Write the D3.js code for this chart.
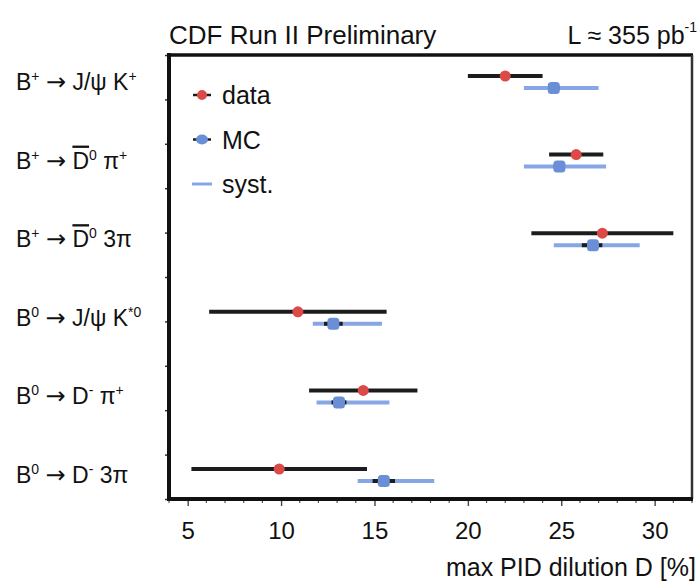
<!DOCTYPE html>
<html>
<head>
<meta charset="utf-8">
<script src="https://cdn.jsdelivr.net/npm/d3@7"></script>
<style>
  html, body { margin: 0; padding: 0; background: #fff; }
  svg { display: block; font-family: "Liberation Sans", Arial, Helvetica, sans-serif; }
</style>
</head>
<body>
<svg id="chart" width="698" height="584"></svg>
<script>
// Decay channels, top to bottom
const channels = ["Bp_JpsiK", "Bp_D0pi", "Bp_D03pi", "B0_JpsiKst", "B0_Dpi", "B0_D3pi"];

// Data: central value and symmetric error
const dataValue = [22.0, 25.8, 27.2, 10.9, 14.4, 9.9];
const dataError = [2.0, 1.45, 3.8, 4.75, 2.9, 4.7];

// Monte Carlo: central value, statistical range, systematic range
const mcValue  = [24.6, 24.9, 26.7, 12.8, 13.1, 15.5];
const mcStatLo = [24.3, 24.6, 26.1, 12.3, 12.7, 14.9];
const mcStatHi = [24.9, 25.2, 27.2, 13.3, 13.5, 16.1];
const mcSystLo = [23.0, 23.0, 24.6, 11.7, 11.9, 14.1];
const mcSystHi = [27.0, 27.4, 29.2, 15.4, 15.8, 18.2];

const xMajorTicks = [5, 10, 15, 20, 25, 30];

const RED = "#dc4a48", BLUE = "#6b8fd6", BLUE_LINE = "#86a6e6", DARK = "#1c1c1c";

const svg = d3.select("#chart");
const frame = { left: 169, right: 692, top: 55, bottom: 499 };

const x = d3.scaleLinear().domain([4, 32]).range([frame.left, frame.right]);
const yRow = d3.scalePoint().domain(channels).range([76, 469]);
const yTick = d3.scaleLinear().domain([0, 10]).range([frame.bottom, frame.top]);
const mcOffset = 12;

// Header texts
svg.append("text").attr("x", 169).attr("y", 44)
  .attr("font-size", 26).attr("fill", "#111")
  .text("CDF Run II Preliminary");
const lum = svg.append("text").attr("x", 697).attr("y", 44)
  .attr("text-anchor", "end").attr("font-size", 25).attr("fill", "#111");
lum.append("tspan").text("L \u2248 355 pb");
lum.append("tspan").attr("font-size", 14).attr("dy", -12).text("-1");

// Axis ticks (outside the frame)
const xMinor = d3.range(4, 33, 1);
const gx = svg.append("g").attr("transform", `translate(0,${frame.bottom})`);
gx.selectAll("line.minor").data(xMinor.filter(v => v % 5 !== 0)).join("line")
  .attr("x1", d => x(d)).attr("x2", d => x(d)).attr("y1", 0).attr("y2", 4)
  .attr("stroke", "#555").attr("stroke-width", 1.2);
gx.call(d3.axisBottom(x).tickValues(xMajorTicks).tickSize(7).tickPadding(16).tickFormat(d3.format("d")))
  .call(g => g.select(".domain").remove())
  .call(g => g.selectAll(".tick line").attr("stroke", "#444").attr("stroke-width", 1.4))
  .call(g => g.selectAll(".tick text").attr("font-size", 24).attr("fill", "#111")
    .attr("font-family", "'Liberation Sans', Arial, sans-serif"));

svg.append("g").attr("transform", `translate(${frame.left},0)`)
  .call(d3.axisLeft(yTick).ticks(10).tickSize(4).tickFormat(""))
  .call(g => g.select(".domain").remove())
  .call(g => g.selectAll(".tick line").attr("stroke", "#333").attr("stroke-width", 1.5));

// Frame
const fr = svg.append("g").attr("stroke", "#111").attr("fill", "none");
fr.append("line").attr("x1", frame.left).attr("x2", frame.right + 1).attr("y1", frame.top).attr("y2", frame.top).attr("stroke-width", 3.5);
fr.append("line").attr("x1", frame.right).attr("x2", frame.right).attr("y1", frame.top).attr("y2", frame.bottom).attr("stroke-width", 2.5).attr("stroke", "#333");
fr.append("line").attr("x1", frame.left - 2).attr("x2", frame.right + 1).attr("y1", frame.bottom).attr("y2", frame.bottom).attr("stroke-width", 4);
fr.append("line").attr("x1", frame.left).attr("x2", frame.left).attr("y1", frame.top - 2).attr("y2", frame.bottom + 2).attr("stroke-width", 4);

// Axis title
svg.append("text").attr("x", 696).attr("y", 576).attr("text-anchor", "end")
  .attr("font-size", 25).attr("fill", "#111").text("max PID dilution D [%]");

// Channel labels with superscripts, overbars and a long arrow
const labelParts = [
  [["B"], ["+", "sup"], [" "], ["\u2192", "arrow"], [" J/\u03c8 K"], ["+", "sup"]],
  [["B"], ["+", "sup"], [" "], ["\u2192", "arrow"], [" "], ["D", "bar"], ["0", "sup"], [" \u03c0"], ["+", "sup"]],
  [["B"], ["+", "sup"], [" "], ["\u2192", "arrow"], [" "], ["D", "bar"], ["0", "sup"], [" 3\u03c0"]],
  [["B"], ["0", "sup"], [" "], ["\u2192", "arrow"], [" J/\u03c8 K"], ["*0", "sup"]],
  [["B"], ["0", "sup"], [" "], ["\u2192", "arrow"], [" D"], ["-", "sup"], [" \u03c0"], ["+", "sup"]],
  [["B"], ["0", "sup"], [" "], ["\u2192", "arrow"], [" D"], ["-", "sup"], [" 3\u03c0"]]
];
channels.forEach((c, i) => {
  const t = svg.append("text").attr("x", 16).attr("y", yRow(c) + 6 + 8)
    .attr("font-size", 23).attr("fill", "#111");
  labelParts[i].forEach(([s, kind]) => {
    const sp = t.append("tspan").text(s);
    if (kind === "sup") sp.attr("font-size", 14).attr("baseline-shift", "65%");
    if (kind === "bar") sp.attr("text-decoration", "overline");
    if (kind === "arrow") sp.attr("font-family", "'DejaVu Sans', sans-serif").attr("font-size", 24);
  });
});

// Marks
const plot = svg.append("g");
channels.forEach((c, i) => {
  const yd = yRow(c), ym = yRow(c) + mcOffset;
  // data error bar
  plot.append("line").attr("x1", x(dataValue[i] - dataError[i])).attr("x2", x(dataValue[i] + dataError[i]))
    .attr("y1", yd).attr("y2", yd).attr("stroke", DARK).attr("stroke-width", 4);
  // MC systematic band
  plot.append("line").attr("x1", x(mcSystLo[i])).attr("x2", x(mcSystHi[i]))
    .attr("y1", ym).attr("y2", ym).attr("stroke", BLUE_LINE).attr("stroke-width", 4);
  // MC statistical bar
  plot.append("line").attr("x1", x(mcStatLo[i])).attr("x2", x(mcStatHi[i]))
    .attr("y1", ym).attr("y2", ym).attr("stroke", DARK).attr("stroke-width", 4);
  // MC marker
  plot.append("rect").attr("x", x(mcValue[i]) - 6).attr("y", ym - 6).attr("width", 12).attr("height", 12)
    .attr("rx", 3.5).attr("fill", BLUE);
  // data marker
  plot.append("circle").attr("cx", x(dataValue[i])).attr("cy", yd).attr("r", 5.5).attr("fill", RED);
});

// Legend
const legendItems = [
  { label: "data", kind: "data" },
  { label: "MC", kind: "mc" },
  { label: "syst.", kind: "syst" }
];
const ly = d3.scalePoint().domain(legendItems.map(d => d.label)).range([95, 184]);
legendItems.forEach(d => {
  const yy = ly(d.label);
  const g = svg.append("g");
  if (d.kind === "syst") {
    g.append("line").attr("x1", 192).attr("x2", 212).attr("y1", yy).attr("y2", yy)
      .attr("stroke", BLUE_LINE).attr("stroke-width", 3);
  } else {
    g.append("line").attr("x1", 193).attr("x2", 211).attr("y1", yy).attr("y2", yy)
      .attr("stroke", DARK).attr("stroke-width", 2.5);
    if (d.kind === "data") g.append("circle").attr("cx", 202).attr("cy", yy).attr("r", 5).attr("fill", RED);
    else g.append("ellipse").attr("cx", 202).attr("cy", yy).attr("rx", 6).attr("ry", 5).attr("fill", BLUE);
  }
  g.append("text").attr("x", 222).attr("y", yy + 9).attr("font-size", 25).attr("fill", "#111").text(d.label);
});
</script>
</body>
</html>
